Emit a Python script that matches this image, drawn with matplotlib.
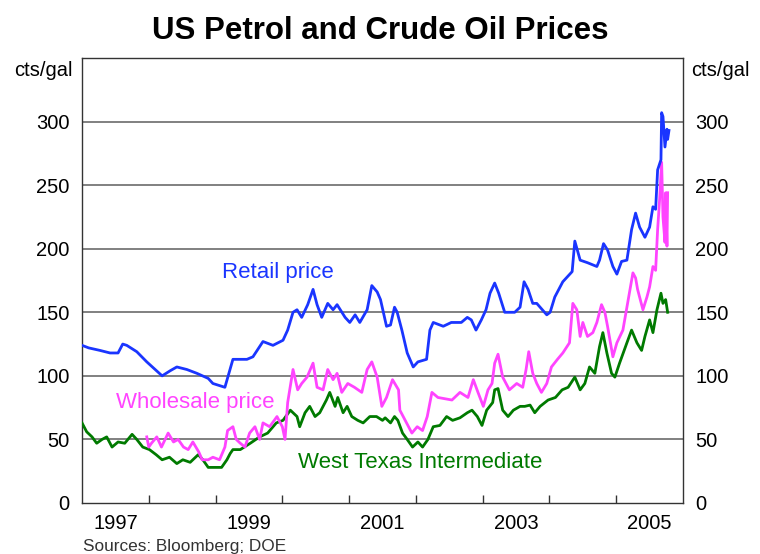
import matplotlib.pyplot as plt

# Values (decimal year, cents per gallon)
retail_t = [1997.00, 1997.10, 1997.27, 1997.42, 1997.54, 1997.61, 1997.67, 1997.82, 1997.97,
            1998.20, 1998.32, 1998.42, 1998.57, 1998.72, 1998.89, 1998.96, 1999.14, 1999.20,
            1999.26, 1999.47, 1999.56, 1999.71, 1999.86, 2000.01, 2000.08, 2000.16, 2000.22,
            2000.29, 2000.38, 2000.46, 2000.52, 2000.59, 2000.68, 2000.76, 2000.82, 2000.94,
            2001.01, 2001.09, 2001.16, 2001.27, 2001.34, 2001.42, 2001.47, 2001.56, 2001.62,
            2001.68, 2001.72, 2001.79, 2001.87, 2001.96, 2002.03, 2002.16, 2002.21, 2002.26,
            2002.41, 2002.53, 2002.68, 2002.77, 2002.83, 2002.90, 2002.98, 2003.05, 2003.11,
            2003.18, 2003.24, 2003.33, 2003.48, 2003.56, 2003.62, 2003.68, 2003.75, 2003.81,
            2003.96, 2004.01, 2004.08, 2004.20, 2004.34, 2004.38, 2004.46, 2004.57, 2004.71,
            2004.75, 2004.81, 2004.87, 2004.95, 2005.01, 2005.08, 2005.16, 2005.23, 2005.29,
            2005.35, 2005.43, 2005.50, 2005.55, 2005.59, 2005.62, 2005.67, 2005.68, 2005.70,
            2005.73, 2005.76, 2005.77, 2005.79]
retail_v = [124, 122, 120, 118, 118, 125, 124, 119, 111,
            100, 104, 107, 105, 102, 98, 94, 91, 102,
            113, 113, 115, 127, 124, 128, 136, 150, 152,
            146, 156, 168, 156, 146, 157, 152, 156, 146,
            142, 148, 142, 152, 171, 166, 160, 139, 140,
            154, 150, 136, 118, 107, 111, 113, 136, 142,
            139, 142, 142, 146, 144, 136, 144, 152, 165,
            173, 165, 150, 150, 154, 174, 168, 157, 157,
            148, 150, 162, 174, 182, 206, 191, 189, 186,
            191, 204, 199, 186, 180, 190, 191, 215, 228,
            217, 209, 217, 233, 231, 262, 270, 307, 304,
            280, 294, 286, 293]

wholesale_t = [1997.97, 1998.00, 1998.04, 1998.12, 1998.19, 1998.29, 1998.37, 1998.44, 1998.52,
               1998.59, 1998.66, 1998.75, 1998.80, 1998.89, 1998.96, 1999.06, 1999.14, 1999.18,
               1999.26, 1999.31, 1999.37, 1999.44, 1999.51, 1999.59, 1999.66, 1999.71, 1999.81,
               1999.92, 2000.00, 2000.04, 2000.08, 2000.16, 2000.23, 2000.29, 2000.37, 2000.46,
               2000.52, 2000.61, 2000.68, 2000.76, 2000.82, 2000.89, 2000.98, 2001.08, 2001.19,
               2001.27, 2001.34, 2001.42, 2001.49, 2001.56, 2001.65, 2001.74, 2001.76, 2001.86,
               2001.94, 2002.02, 2002.10, 2002.17, 2002.24, 2002.33, 2002.54, 2002.66, 2002.78,
               2002.86, 2002.93, 2003.01, 2003.08, 2003.14, 2003.18, 2003.23, 2003.30, 2003.40,
               2003.51, 2003.60, 2003.65, 2003.69, 2003.75, 2003.81, 2003.88, 2003.96, 2004.03,
               2004.12, 2004.20, 2004.30, 2004.35, 2004.41, 2004.46, 2004.50, 2004.57, 2004.65,
               2004.71, 2004.78, 2004.83, 2004.87, 2004.95, 2005.01, 2005.10, 2005.17, 2005.25,
               2005.29, 2005.32, 2005.40, 2005.46, 2005.50, 2005.55, 2005.59, 2005.62, 2005.65,
               2005.68, 2005.70, 2005.73, 2005.74, 2005.76, 2005.77]
wholesale_v = [52, 44, 47, 52, 44, 55, 48, 50, 44,
               42, 48, 40, 34, 34, 36, 34, 44, 57,
               60, 50, 47, 44, 55, 60, 50, 63, 60,
               68, 60, 50, 79, 105, 89, 94, 99, 110,
               91, 89, 105, 97, 102, 87, 94, 91, 87,
               105, 111, 99, 76, 83, 97, 89, 73, 63,
               55, 60, 57, 68, 87, 83, 81, 87, 83,
               97, 87, 76, 89, 94, 110, 117, 99, 89,
               94, 91, 105, 119, 102, 94, 87, 94, 107,
               113, 118, 126, 157, 152, 131, 142, 131, 134,
               142, 156, 150, 139, 115, 126, 136, 157, 181,
               177, 168, 152, 162, 170, 186, 183, 215, 239,
               268, 225, 205, 244, 202, 244]

wti_t = [1997.00, 1997.07, 1997.15, 1997.22, 1997.30, 1997.37, 1997.45, 1997.54, 1997.64,
         1997.75, 1997.82, 1997.91, 1998.01, 1998.11, 1998.20, 1998.31, 1998.42, 1998.51,
         1998.62, 1998.74, 1998.81, 1998.89, 1998.99, 1999.09, 1999.17, 1999.22, 1999.26,
         1999.37, 1999.52, 1999.66, 1999.78, 1999.91, 2000.01, 2000.12, 2000.22, 2000.26,
         2000.34, 2000.41, 2000.49, 2000.56, 2000.66, 2000.71, 2000.79, 2000.83, 2000.91,
         2000.97, 2001.04, 2001.13, 2001.21, 2001.31, 2001.41, 2001.50, 2001.54, 2001.62,
         2001.68, 2001.73, 2001.80, 2001.87, 2001.95, 2002.03, 2002.10, 2002.18, 2002.26,
         2002.36, 2002.46, 2002.55, 2002.66, 2002.77, 2002.84, 2002.92, 2002.99, 2003.06,
         2003.15, 2003.18, 2003.23, 2003.30, 2003.38, 2003.46, 2003.56, 2003.63, 2003.71,
         2003.78, 2003.86, 2003.98, 2004.09, 2004.19, 2004.28, 2004.38, 2004.46, 2004.53,
         2004.60, 2004.68, 2004.75, 2004.80, 2004.86, 2004.93, 2004.98, 2005.05, 2005.16,
         2005.23, 2005.31, 2005.38, 2005.43, 2005.50, 2005.55, 2005.61, 2005.67, 2005.70,
         2005.74, 2005.77]
wti_v = [63, 56, 52, 47, 50, 52, 44, 48, 47,
         54, 50, 44, 42, 38, 34, 36, 31, 34,
         32, 38, 34, 28, 28, 28, 34, 39, 42,
         42, 47, 52, 55, 63, 65, 73, 68, 60,
         71, 76, 68, 71, 81, 87, 76, 83, 71,
         76, 68, 65, 63, 68, 68, 65, 67, 63,
         68, 65, 55, 50, 44, 48, 44, 50, 60,
         61, 68, 65, 67, 71, 73, 68, 61, 73,
         79, 89, 90, 73, 68, 73, 76, 76, 77,
         71, 76, 81, 83, 89, 91, 99, 89, 94,
         107, 102, 123, 134, 118, 102, 99, 110, 126,
         136, 126, 120, 131, 144, 134, 152, 165, 157,
         160, 150]

year_labels = ['1997', '1999', '2001', '2003', '2005']
y_ticks = [0, 50, 100, 150, 200, 250, 300]

blue = '#1a35ff'
pink = '#ff44ff'
green = '#007a00'

plt.rcParams['font.family'] = ['Liberation Sans', 'DejaVu Sans']

fig = plt.figure(figsize=(7.6, 5.54), dpi=100)
ax = fig.add_axes([82 / 760, 51 / 554, 601 / 760, 445 / 554])

for y in y_ticks[1:]:
    ax.axhline(y, color='#808080', lw=1.4, zorder=1)

ax.plot(wti_t, wti_v, color=green, lw=2.0, zorder=3)
ax.plot(wholesale_t, wholesale_v, color=pink, lw=2.0, zorder=4)
ax.plot(retail_t, retail_v, color=blue, lw=2.0, zorder=5)

ax.set_xlim(1997, 2006)
ax.set_ylim(0, 350)

# year ticks at boundaries, labels centred in the year
ax.set_xticks(range(1998, 2006))
ax.set_xticklabels([])
ax.set_xticks([1997.5, 1999.5, 2001.5, 2003.5, 2005.5], minor=True)
ax.set_xticklabels(year_labels, minor=True, fontsize=14.5)
ax.tick_params(axis='x', which='major', direction='in', length=6, width=1, color='#333333')
ax.tick_params(axis='x', which='minor', length=0, pad=8)

ax.set_yticks(y_ticks)
ax.tick_params(axis='y', length=0, labelsize=14.5, pad=9,
               labelleft=True, labelright=True)

for s in ax.spines.values():
    s.set_color('#333333')
    s.set_linewidth(1.0)

ax.text(1999.93, 181, 'Retail price', color=blue, fontsize=16, ha='center', va='center')
ax.text(1998.69, 79, 'Wholesale price', color=pink, fontsize=16, ha='center', va='center')
ax.text(2002.07, 32, 'West Texas Intermediate', color=green, fontsize=16, ha='center', va='center')

fig.text(0.5, 1 - 31 / 554, 'US Petrol and Crude Oil Prices', fontsize=22.5,
         fontweight='bold', ha='center', va='center')
fig.text(73 / 760, 1 - 70 / 554, 'cts/gal', fontsize=14.5, ha='right', va='center')
fig.text(691 / 760, 1 - 70 / 554, 'cts/gal', fontsize=14.5, ha='left', va='center')
fig.text(83 / 760, 1 - 546 / 554, 'Sources: Bloomberg; DOE', fontsize=12.4,
         color='#333333', ha='left', va='center')

fig.savefig('out.png', dpi=100)
